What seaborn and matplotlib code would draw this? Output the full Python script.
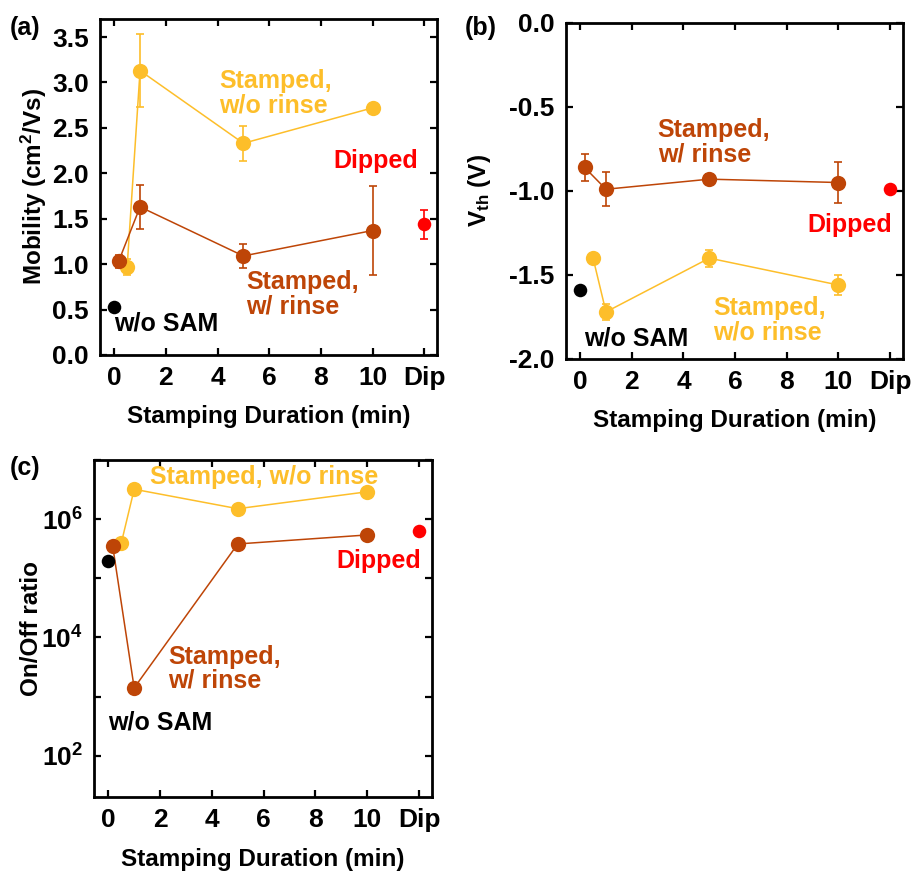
import numpy as np
import pandas as pd
import matplotlib
matplotlib.use('Agg')
import matplotlib.pyplot as plt
import seaborn as sns

# stamping duration (min); "Dip" is drawn at x = 12
t_norinse = [0.5, 1, 5, 10]
t_rinse = [0.17, 1, 5, 10]
t_nosam = [0]
t_dip = [12]

# (a) mobility (cm2/Vs)
mob_norinse = [0.97, 3.13, 2.33, 2.72]
mob_norinse_err = [0.09, 0.40, 0.19, 0.03]
mob_rinse = [1.03, 1.63, 1.09, 1.37]
mob_rinse_err = [0.07, 0.24, 0.13, 0.49]
mob_nosam = [0.53]
mob_dip = [1.44]
mob_dip_err = [0.16]

# (b) threshold voltage (V)
vth_norinse = [-1.40, -1.72, -1.40, -1.56]
vth_norinse_err = [0.0, 0.05, 0.05, 0.06]
vth_rinse = [-0.86, -0.99, -0.93, -0.95]
vth_rinse_err = [0.08, 0.10, 0.03, 0.12]
vth_nosam = [-1.59]
vth_dip = [-0.99]

# (c) on/off ratio
onoff_norinse = [3.9e5, 3.2e6, 1.5e6, 2.9e6]
onoff_rinse = [3.5e5, 1.4e3, 3.8e5, 5.4e5]
onoff_nosam = [1.96e5]
onoff_dip = [6.3e5]

xticks = [0, 2, 4, 6, 8, 10, 12]
xticklabels = ['0', '2', '4', '6', '8', '10', 'Dip']

YEL = '#FDBE2A'
BRN = '#BE4507'
RED = '#FF0000'
BLK = '#000000'

sns.set_theme(style='ticks')
plt.rcParams['font.family'] = ['Liberation Sans', 'DejaVu Sans']
plt.rcParams['font.weight'] = 'bold'
plt.rcParams['text.color'] = 'black'
plt.rcParams['axes.labelcolor'] = 'black'
plt.rcParams['xtick.color'] = 'black'
plt.rcParams['ytick.color'] = 'black'
plt.rcParams['mathtext.fontset'] = 'custom'
plt.rcParams['mathtext.rm'] = 'Liberation Sans:bold'
plt.rcParams['mathtext.it'] = 'Liberation Sans:bold'
plt.rcParams['mathtext.bf'] = 'Liberation Sans:bold'

FS_TICK = 19
FS_LAB = 17.5
FS_TXT = 18


def series_frame(t_a, v_a, t_b, v_b):
    return pd.DataFrame({
        't': list(t_a) + list(t_b),
        'val': list(v_a) + list(v_b),
        'group': ['norinse'] * len(t_a) + ['rinse'] * len(t_b),
    })


def draw_panel(ax, n_t, n_v, n_e, r_t, r_v, r_e, s_v, d_v, d_e):
    df = series_frame(n_t, n_v, r_t, r_v)
    if n_e is not None:
        ax.errorbar(n_t, n_v, yerr=n_e, fmt='none', ecolor=YEL, elinewidth=1.2, capsize=3, capthick=1.2)
        ax.errorbar(r_t, r_v, yerr=r_e, fmt='none', ecolor=BRN, elinewidth=1.2, capsize=3, capthick=1.2)
    if d_e is not None:
        ax.errorbar(t_dip, d_v, yerr=d_e, fmt='none', ecolor=RED, elinewidth=1.2, capsize=3, capthick=1.2)
    sns.lineplot(data=df, x='t', y='val', hue='group', palette={'norinse': YEL, 'rinse': BRN},
                 estimator=None, marker='o', markersize=11, markeredgewidth=0, linewidth=1.1,
                 legend=False, ax=ax, zorder=3)
    sns.scatterplot(x=t_nosam, y=s_v, color=BLK, s=95, linewidth=0, ax=ax, zorder=4)
    sns.scatterplot(x=t_dip, y=d_v, color=RED, s=95, linewidth=0, ax=ax, zorder=4)

    ax.set_xlim(-0.55, 12.5)
    ax.set_xticks(xticks)
    ax.set_xticklabels(xticklabels)
    ax.tick_params(direction='in', top=True, right=True, length=5, width=1.6,
                   labelsize=FS_TICK, pad=8, colors='black')
    for sp in ax.spines.values():
        sp.set_linewidth(2)
        sp.set_color('black')
    for lab in ax.get_xticklabels() + ax.get_yticklabels():
        lab.set_fontweight('bold')
    ax.set_xlabel('Stamping Duration (min)', fontsize=FS_LAB, fontweight='bold')
    ax.xaxis.set_label_coords(0.5, -0.15)


fig = plt.figure(figsize=(9.21, 8.73), dpi=100)
ax_a = fig.add_axes([0.1086, 0.5934, 0.366, 0.385])
ax_b = fig.add_axes([0.6145, 0.5888, 0.366, 0.385])
ax_c = fig.add_axes([0.1021, 0.0871, 0.367, 0.386])

# (a)
draw_panel(ax_a, t_norinse, mob_norinse, mob_norinse_err, t_rinse, mob_rinse, mob_rinse_err,
           mob_nosam, mob_dip, mob_dip_err)
ax_a.set_ylim(0, 3.7)
ax_a.set_yticks(np.arange(0, 3.51, 0.5))
ax_a.set_yticklabels([f'{v:.1f}' for v in np.arange(0, 3.51, 0.5)])
ax_a.set_ylabel('Mobility (cm$^2$/Vs)', fontsize=FS_LAB, fontweight='bold')
ax_a.yaxis.set_label_coords(-0.15, 0.5)
ax_a.text(4.05, 2.88, 'Stamped,\nw/o rinse', color=YEL, fontsize=FS_TXT, fontweight='bold',
          ha='left', va='center', linespacing=1.0)
ax_a.text(8.5, 2.13, 'Dipped', color=RED, fontsize=FS_TXT, fontweight='bold', ha='left', va='center')
ax_a.text(5.1, 0.67, 'Stamped,\nw/ rinse', color=BRN, fontsize=FS_TXT, fontweight='bold',
          ha='left', va='center', linespacing=1.0)
ax_a.text(0.0, 0.35, 'w/o SAM', color=BLK, fontsize=FS_TXT, fontweight='bold', ha='left', va='center')

# (b)
draw_panel(ax_b, t_norinse, vth_norinse, vth_norinse_err, t_rinse, vth_rinse, vth_rinse_err,
           vth_nosam, vth_dip, None)
ax_b.set_ylim(-2.0, 0.0)
ax_b.set_yticks(np.arange(-2.0, 0.01, 0.5))
ax_b.set_yticklabels([f'{v:.1f}' for v in np.arange(-2.0, 0.01, 0.5)])
ax_b.set_ylabel('V$_{th}$ (V)', fontsize=FS_LAB, fontweight='bold')
ax_b.yaxis.set_label_coords(-0.217, 0.5)
ax_b.text(3.0, -0.71, 'Stamped,\nw/ rinse', color=BRN, fontsize=FS_TXT, fontweight='bold',
          ha='left', va='center', linespacing=1.0)
ax_b.text(8.8, -1.20, 'Dipped', color=RED, fontsize=FS_TXT, fontweight='bold', ha='left', va='center')
ax_b.text(5.15, -1.77, 'Stamped,\nw/o rinse', color=YEL, fontsize=FS_TXT, fontweight='bold',
          ha='left', va='center', linespacing=1.0)
ax_b.text(0.17, -1.88, 'w/o SAM', color=BLK, fontsize=FS_TXT, fontweight='bold', ha='left', va='center')

# (c)
ax_c.set_yscale('log')
draw_panel(ax_c, t_norinse, onoff_norinse, None, t_rinse, onoff_rinse, None,
           onoff_nosam, onoff_dip, None)
ax_c.set_ylim(20, 1e7)
ax_c.yaxis.set_major_locator(matplotlib.ticker.FixedLocator([1e2, 1e3, 1e4, 1e5, 1e6, 1e7]))
ax_c.yaxis.set_minor_locator(matplotlib.ticker.NullLocator())
ax_c.set_yticklabels(['$10^{2}$', '', '$10^{4}$', '', '$10^{6}$', ''])
ax_c.tick_params(axis='y', labelsize=FS_TICK)
ax_c.set_ylabel('On/Off ratio', fontsize=FS_LAB, fontweight='bold')
ax_c.yaxis.set_label_coords(-0.15, 0.5)
ax_c.text(1.6, 10 ** 6.72, 'Stamped, w/o rinse', color=YEL, fontsize=FS_TXT, fontweight='bold',
          ha='left', va='center')
ax_c.text(8.8, 10 ** 5.3, 'Dipped', color=RED, fontsize=FS_TXT, fontweight='bold', ha='left', va='center')
ax_c.text(2.3, 10 ** 3.47, 'Stamped,\nw/ rinse', color=BRN, fontsize=FS_TXT, fontweight='bold',
          ha='left', va='center', linespacing=1.0)
ax_c.text(0.0, 10 ** 2.56, 'w/o SAM', color=BLK, fontsize=FS_TXT, fontweight='bold', ha='left', va='center')

fig.text(0.011, 0.982, '(a)', fontsize=FS_TXT, fontweight='bold', ha='left', va='top')
fig.text(0.505, 0.982, '(b)', fontsize=FS_TXT, fontweight='bold', ha='left', va='top')
fig.text(0.011, 0.478, '(c)', fontsize=FS_TXT, fontweight='bold', ha='left', va='top')

fig.savefig('out.png', dpi=100)
